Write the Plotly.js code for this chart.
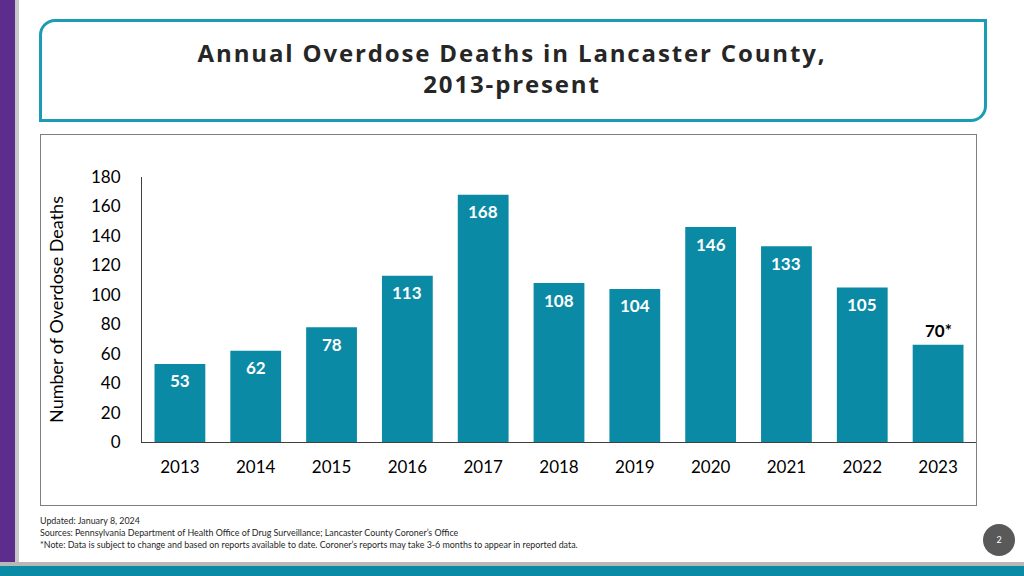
<!DOCTYPE html>
<html>
<head>
<meta charset="utf-8">
<script src="https://cdn.plot.ly/plotly-3.0.1.min.js"></script>
<style>
  html, body { margin:0; padding:0; width:1024px; height:576px; overflow:hidden; background:#ffffff; font-family:"Lato","Open Sans",sans-serif; }
  .abs { position:absolute; }
  #purple { left:0; top:0; width:15px; height:576px; background:#5c2d8c; }
  #purpleEdge { left:15px; top:0; width:4px; height:576px; background:#c8c8c8; }
  #titleBox { left:39px; top:19px; width:942px; height:97px; border:3px solid #1b9bb4; border-radius:16px 0 16px 0; box-sizing:content-box; }
  #chartBox { left:40px; top:134px; width:935px; height:370px; border:1px solid #7f7f7f; }
  #footer { left:40px; top:515px; font-family:"Lato","Liberation Sans",sans-serif; font-size:8.9px; line-height:12px; color:#262626; }
  #pageNum { left:983px; top:524px; width:32px; height:32px; border-radius:50%; background:#595959; color:#fff; font-size:9px; line-height:32px; text-align:center; }
  #bottomGray { left:0; top:562px; width:1024px; height:4px; background:#b8b8b8; }
  #bottomTeal { left:0; top:566px; width:1024px; height:10px; background:#0b8aa6; }
  #plot { left:0; top:0; width:1024px; height:576px; }
  #plot .gtitle { letter-spacing:1.85px; }
</style>
</head>
<body>
<div class="abs" id="purple"></div>
<div class="abs" id="purpleEdge"></div>
<div class="abs" id="titleBox"></div>
<div class="abs" id="chartBox"></div>
<div class="abs" id="plot"></div>
<div class="abs" id="footer">
  Updated: January 8, 2024<br>
  Sources: Pennsylvania Department of Health Office of Drug Surveillance; Lancaster County Coroner’s Office<br>
  *Note: Data is subject to change and based on reports available to date. Coroner’s reports may take 3-6 months to appear in reported data.
</div>
<div class="abs" id="pageNum">2</div>
<div class="abs" id="bottomGray"></div>
<div class="abs" id="bottomTeal"></div>
<script>
const years = ["2013","2014","2015","2016","2017","2018","2019","2020","2021","2022","2023"];
const deaths = [53, 62, 78, 113, 168, 108, 104, 146, 133, 105, 66];
const barLabels = ["53","62","78","113","168","108","104","146","133","105","70*"];
const labelInside = [true, true, true, true, true, true, true, true, true, true, false];
const yTicks = [0,20,40,60,80,100,120,140,160,180];

const trace = {
  type: "bar",
  x: years,
  y: deaths,
  marker: { color: "#0b8aa6" },
  width: 0.67,
  hoverinfo: "none"
};

// category axis: annotation x given as the category index
const annotations = years.map((yr, i) => ({
  x: i,
  y: deaths[i],
  xref: "x", yref: "y",
  text: barLabels[i],
  showarrow: false,
  yanchor: "middle",
  yshift: labelInside[i] ? -17 : 14,
  font: { family: "Lato, sans-serif", size: 17, weight: "bold", color: labelInside[i] ? "#ffffff" : "#000000" }
}));

const layout = {
  width: 1024,
  height: 576,
  margin: { l: 142, r: 48, t: 177, b: 134, pad: 0 },
  paper_bgcolor: "rgba(0,0,0,0)",
  plot_bgcolor: "rgba(0,0,0,0)",
  showlegend: false,
  annotations: annotations,
  title: {
    text: "Annual Overdose Deaths in Lancaster County,<br>2013-present",
    font: { family: "Open Sans, sans-serif", size: 24, color: "#262626", weight: "bold" },
    x: 0.5, xanchor: "center", xref: "container",
    y: 0.892, yanchor: "middle", yref: "container"
  },
  xaxis: {
    type: "category",
    range: [-0.5, 10.5],
    showline: true, linecolor: "#404040", linewidth: 1,
    showgrid: false, zeroline: false, ticks: "",
    tickfont: { family: "Lato, sans-serif", size: 17, color: "#000000" },
    ticklabelstandoff: 10
  },
  yaxis: {
    range: [0, 180],
    tickvals: yTicks,
    showline: true, linecolor: "#404040", linewidth: 1,
    showgrid: false, zeroline: false, ticks: "",
    tickfont: { family: "Lato, sans-serif", size: 17, color: "#000000" },
    ticklabelstandoff: 17,
    title: { text: "Number of Overdose Deaths", font: { family: "Lato, sans-serif", size: 18, color: "#000000" }, standoff: 22 }
  }
};

Plotly.newPlot("plot", [trace], layout, { displayModeBar: false, staticPlot: true });
</script>
</body>
</html>
